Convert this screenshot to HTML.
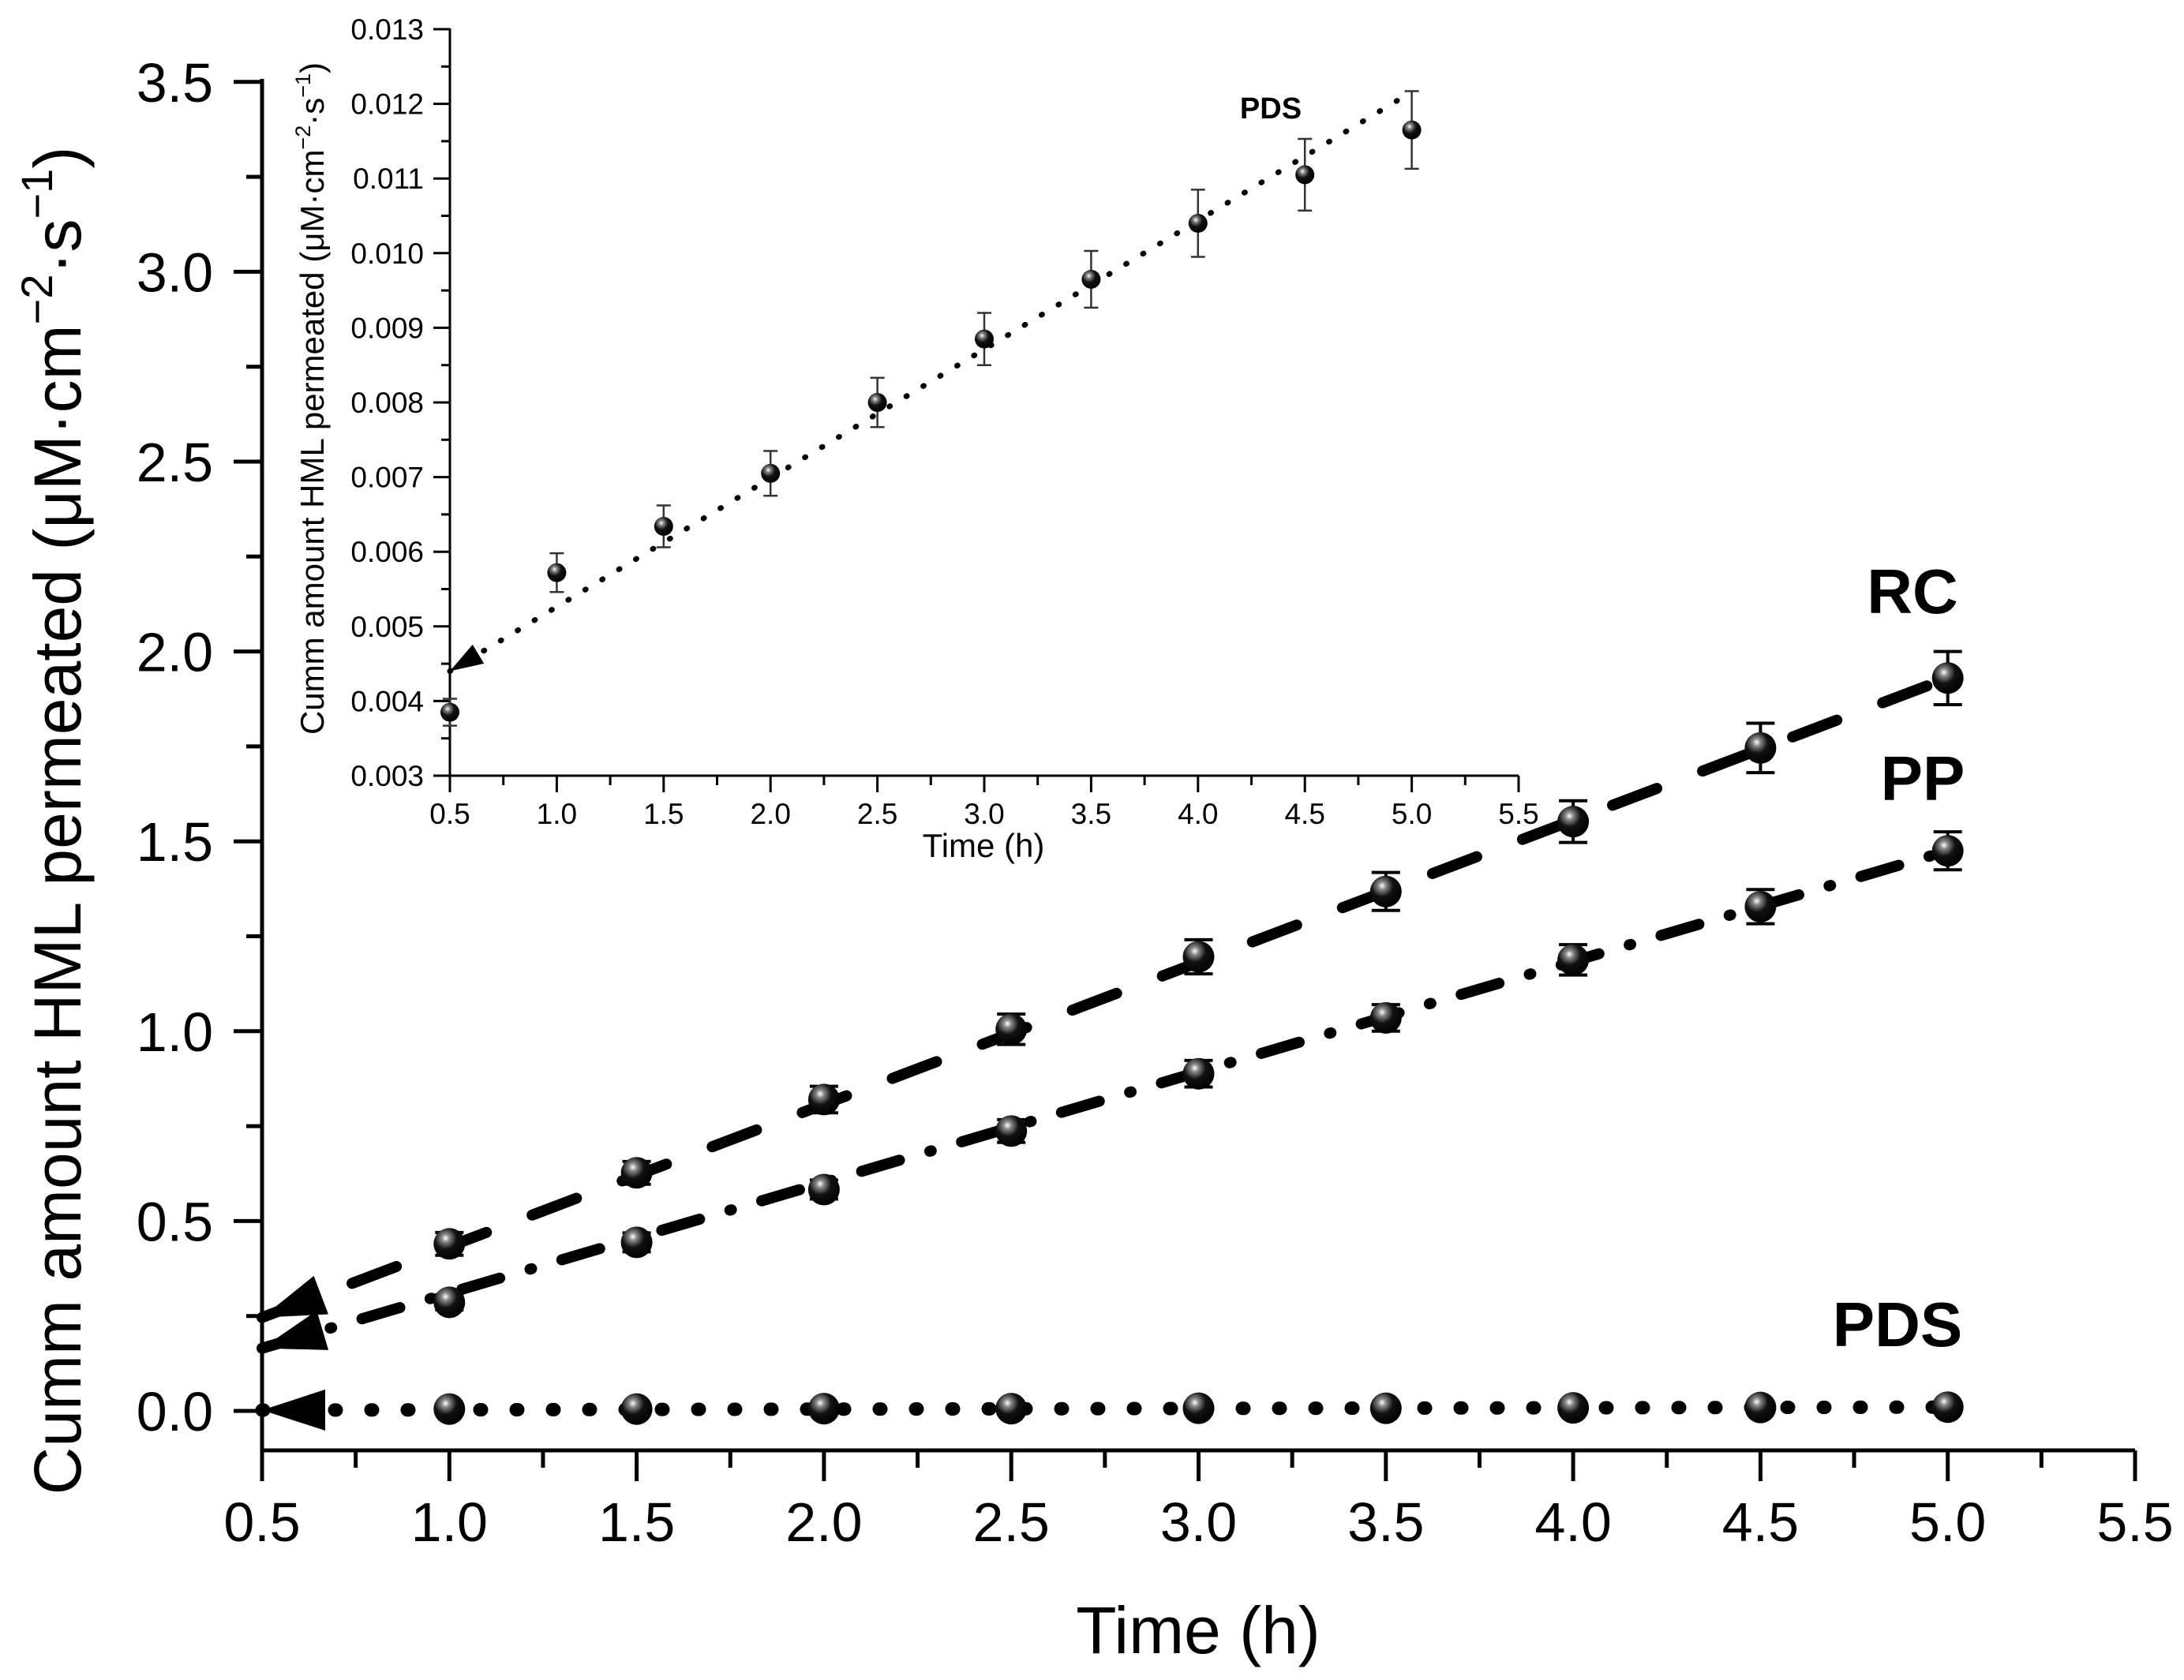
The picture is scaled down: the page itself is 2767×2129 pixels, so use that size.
<!DOCTYPE html>
<html><head><meta charset="utf-8"><style>
html,body{margin:0;padding:0;background:#fff;}
svg{display:block;font-family:"Liberation Sans",Arial,sans-serif;}
</style></head><body>
<svg id="chart" width="2767" height="2129" viewBox="0 0 2767 2129" xmlns="http://www.w3.org/2000/svg">
<defs>
<radialGradient id="ball" cx="0.38" cy="0.32" r="0.7">
<stop offset="0" stop-color="#fff"/><stop offset="0.18" stop-color="#888"/><stop offset="0.5" stop-color="#111"/><stop offset="1" stop-color="#000"/>
</radialGradient>
</defs>
<g id="main"></g>
<g id="inset"></g>
</svg>
<script>
const times=[1.0,1.5,2.0,2.5,3.0,3.5,4.0,4.5,5.0];
const rcVals=[0.44,0.627,0.82,1.005,1.196,1.368,1.552,1.746,1.93];
const rcErr=[0.03,0.03,0.035,0.04,0.045,0.05,0.055,0.065,0.07];
const ppVals=[0.286,0.444,0.583,0.737,0.888,1.035,1.188,1.328,1.475];
const ppErr=[0.02,0.025,0.025,0.03,0.035,0.035,0.04,0.045,0.05];
const pdsVals=[0.005,0.005,0.006,0.006,0.007,0.007,0.008,0.009,0.01];
const rcFit=[0.246,1.93];
const ppFit=[0.165,1.475];
const pdsFit=[0.002,0.01];
const mainXTicks=[0.5,1.0,1.5,2.0,2.5,3.0,3.5,4.0,4.5,5.0,5.5];
const mainYTicks=[0,0.5,1.0,1.5,2.0,2.5,3.0,3.5];
const insetTimes=[0.5,1.0,1.5,2.0,2.5,3.0,3.5,4.0,4.5,5.0];
const insetVals=[0.00385,0.00572,0.00634,0.00705,0.00800,0.00885,0.00965,0.01040,0.01105,0.01165];
const insetErr=[0.00018,0.00026,0.00028,0.0003,0.00033,0.00035,0.00038,0.00045,0.00048,0.00052];
const insetFit=[0.0044,0.01216];
const insetXTicks=[0.5,1.0,1.5,2.0,2.5,3.0,3.5,4.0,4.5,5.0,5.5];
const insetYTicks=[0.003,0.004,0.005,0.006,0.007,0.008,0.009,0.010,0.011,0.012,0.013];

const NS="http://www.w3.org/2000/svg";
function mk(parent,tag,attrs,text){const e=document.createElementNS(NS,tag);for(const k in attrs)e.setAttribute(k,attrs[k]);if(text!==undefined)e.textContent=text;parent.appendChild(e);return e;}

const mx=v=>332+(v-0.5)*474.6;
const my=v=>1788-v*481.2;
const M=document.getElementById('main');
let e;
e=mk(M,'line',{x1:332,y1:1838,x2:2705,y2:1838,stroke:'#000','stroke-width':5});


e=mk(M,'line',{x1:332,y1:100,x2:332,y2:1840,stroke:'#000','stroke-width':5});


mainXTicks.forEach((t,i)=>{
  mk(M,'line',{x1:mx(t),y1:1838,x2:mx(t),y2:1877,stroke:'#000','stroke-width':5});
  if(i<mainXTicks.length-1){const m=mx(t+0.25);mk(M,'line',{x1:m,y1:1838,x2:m,y2:1860,stroke:'#000','stroke-width':5});}
  e=mk(M,'text',{x:mx(t),y:1953,'font-size':70,'text-anchor':'middle'},t.toFixed(1));
  
  
});
mainYTicks.forEach((t,i)=>{
  mk(M,'line',{x1:296,y1:my(t),x2:332,y2:my(t),stroke:'#000','stroke-width':5});
  if(i<mainYTicks.length-1){mk(M,'line',{x1:312,y1:my(t+0.25),x2:332,y2:my(t+0.25),stroke:'#000','stroke-width':5});}
  e=mk(M,'text',{x:270,y:my(t)+25,'font-size':70,'text-anchor':'end'},t.toFixed(1));
  
  
});
e=mk(M,'text',{x:1518,y:2095,'font-size':84,'text-anchor':'middle'},'Time (h)');


e=mk(M,'text',{x:0,y:0,'font-size':84,'text-anchor':'middle',transform:'translate(102,1040) rotate(-90)'});


e.innerHTML='Cumm amount HML permeated (μM·cm<tspan dy="-36" font-size="56">−2</tspan><tspan dy="36">·s</tspan><tspan dy="-36" font-size="56">−1</tspan><tspan dy="36">)</tspan>';

function arrow(g,x0,y0,x1,y1,len,w){const dx=x1-x0,dy=y1-y0,L=Math.hypot(dx,dy),ux=dx/L,uy=dy/L;
  const bx=x0+ux*len,by=y0+uy*len;
  mk(g,'polygon',{points:`${x0},${y0} ${bx-uy*w},${by+ux*w} ${bx+uy*w},${by-ux*w}`,fill:'#000'});}
function fitLine(name,fit,dash,sw){
  const x0=mx(0.5),y0=my(fit[0]),x1=mx(5.0),y1=my(fit[1]);
  e=mk(M,'line',{x1:x0,y1:y0,x2:x1,y2:y1,stroke:'#000','stroke-width':sw,'stroke-dasharray':dash,'stroke-linecap':'round'});
  
  
  arrow(M,x0,y0,x1,y1,80,26);
}
fitLine('rc-fit-line',rcFit,'60 62',14);
fitLine('pp-fit-line',ppFit,'50 40 2 40',14);
fitLine('pds-fit-line',pdsFit,'2 44',17);
function series(name,vals,errs,r){
  times.forEach((t,i)=>{
    if(errs){const cx=mx(t),top=my(vals[i]+errs[i]),bot=my(vals[i]-errs[i]);
      mk(M,'line',{x1:cx,y1:top,x2:cx,y2:bot,stroke:'#000','stroke-width':4});
      mk(M,'line',{x1:cx-18,y1:top,x2:cx+18,y2:top,stroke:'#000','stroke-width':4});
      mk(M,'line',{x1:cx-18,y1:bot,x2:cx+18,y2:bot,stroke:'#000','stroke-width':4});}
    e=mk(M,'circle',{cx:mx(t),cy:my(vals[i]),r:r,fill:'url(#ball)'});
    
    
  });
}
series('rc',rcVals,rcErr,20);
series('pp',ppVals,ppErr,20);
series('pds',pdsVals,null,20);
e=mk(M,'text',{x:2423,y:777,'font-size':80,'font-weight':'bold','text-anchor':'middle'},'RC');


e=mk(M,'text',{x:2436,y:1014,'font-size':80,'font-weight':'bold','text-anchor':'middle'},'PP');


e=mk(M,'text',{x:2404,y:1706,'font-size':80,'font-weight':'bold','text-anchor':'middle'},'PDS');



const ix=v=>570+(v-0.5)*270.8;
const iy=v=>983-(v-0.003)*94600;
const I=document.getElementById('inset');

e=mk(I,'line',{x1:570,y1:983,x2:1924,y2:983,stroke:'#000','stroke-width':3});


e=mk(I,'line',{x1:570,y1:36,x2:570,y2:984,stroke:'#000','stroke-width':3});


insetXTicks.forEach((t,i)=>{
  mk(I,'line',{x1:ix(t),y1:983,x2:ix(t),y2:1004,stroke:'#000','stroke-width':3});
  if(i<insetXTicks.length-1){mk(I,'line',{x1:ix(t+0.25),y1:983,x2:ix(t+0.25),y2:995,stroke:'#000','stroke-width':3});}
  e=mk(I,'text',{x:ix(t),y:1044,'font-size':37,'text-anchor':'middle'},t.toFixed(1));
  
  
});
insetYTicks.forEach((t,i)=>{
  mk(I,'line',{x1:549,y1:iy(t),x2:570,y2:iy(t),stroke:'#000','stroke-width':3});
  if(i<insetYTicks.length-1){mk(I,'line',{x1:559,y1:iy(t+0.0005),x2:570,y2:iy(t+0.0005),stroke:'#000','stroke-width':3});}
  e=mk(I,'text',{x:537,y:iy(t)+13,'font-size':37,'text-anchor':'end'},t.toFixed(3));
  
  
});
e=mk(I,'text',{x:1246,y:1086,'font-size':42,'text-anchor':'middle'},'Time (h)');


e=mk(I,'text',{x:0,y:0,'font-size':42,'text-anchor':'middle',transform:'translate(410,505) rotate(-90)'});


e.innerHTML='Cumm amount HML permeated (μM·cm<tspan dy="-17" font-size="27">−2</tspan><tspan dy="17">·s</tspan><tspan dy="-17" font-size="27">−1</tspan><tspan dy="17">)</tspan>';
{const x0=ix(0.5),y0=iy(insetFit[0]),x1=ix(5.0),y1=iy(insetFit[1]);
 e=mk(I,'line',{x1:x0,y1:y0,x2:x1,y2:y1,stroke:'#000','stroke-width':7,'stroke-dasharray':'1 24','stroke-linecap':'round'});
 
 
 arrow(I,x0,y0,x1,y1,42,14);}
insetTimes.forEach((t,i)=>{
  const cx=ix(t),top=iy(insetVals[i]+insetErr[i]),bot=iy(insetVals[i]-insetErr[i]);
  mk(I,'line',{x1:cx,y1:top,x2:cx,y2:bot,stroke:'#333','stroke-width':2.5});
  mk(I,'line',{x1:cx-9,y1:top,x2:cx+9,y2:top,stroke:'#333','stroke-width':2.5});
  mk(I,'line',{x1:cx-9,y1:bot,x2:cx+9,y2:bot,stroke:'#333','stroke-width':2.5});
  e=mk(I,'circle',{cx:cx,cy:iy(insetVals[i]),r:12,fill:'url(#ball)'});
  
  
});
e=mk(I,'text',{x:1610,y:150,'font-size':38,'font-weight':'bold','text-anchor':'middle'},'PDS');


</script>
</body></html>
